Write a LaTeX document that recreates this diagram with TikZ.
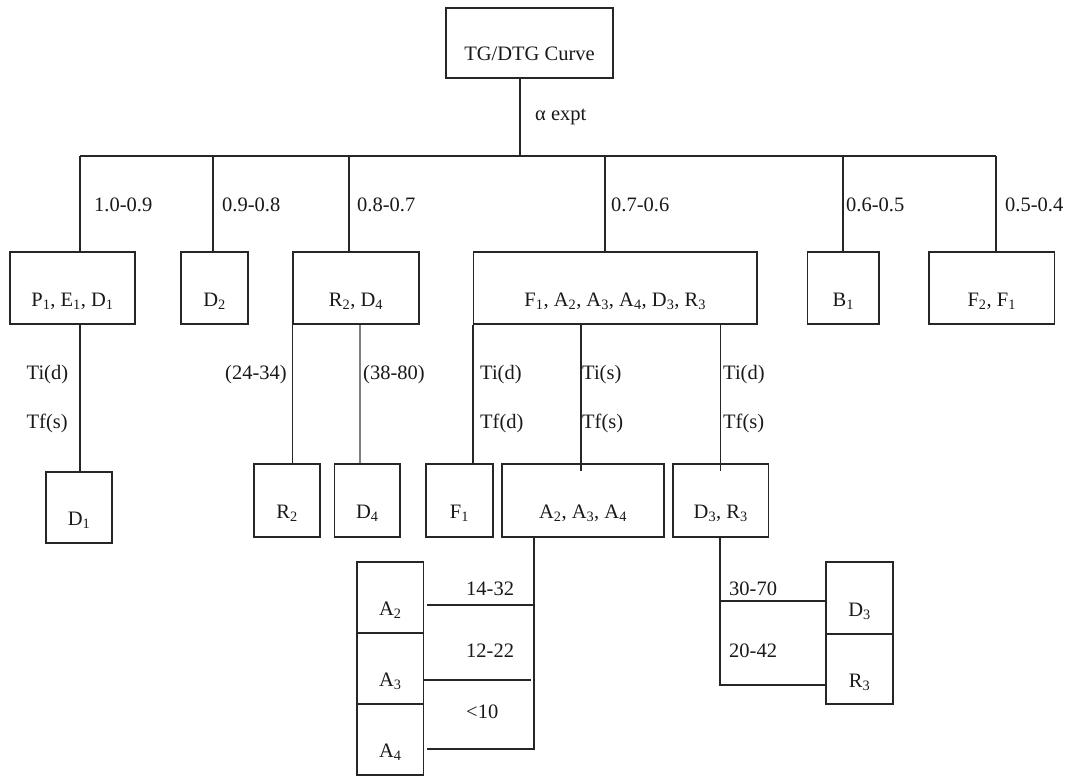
\documentclass[tikz,border=0pt]{standalone}
\usepackage{fontspec}
\setmainfont{Liberation Serif}
\newcommand{\sbs}[1]{\textsubscript{#1}}
\begin{document}
\begin{tikzpicture}[x=1pt,y=-1pt,
  every node/.style={font=\fontsize{20.5}{24}\selectfont, text=black!90},
  box/.style={draw=black!85, line width=1.5pt, inner sep=0pt, text height=36pt, text depth=0pt, anchor=center},
  lbl/.style={anchor=base west, inner sep=0pt},
  link/.style={draw=black!85, line width=1.5pt}]
\useasboundingbox (0,0) rectangle (1066,776);
% top
\node[box, minimum width=167pt, minimum height=70pt] (tg) at (529.5,43) {TG/DTG Curve};
% row 2
\node[box, minimum width=125pt, minimum height=72pt] (pe) at (72.5,288) {P\sbs{1}, E\sbs{1}, D\sbs{1}};
\node[box, minimum width=67pt, minimum height=72pt] (d2) at (214.5,288) {D\sbs{2}};
\node[box, minimum width=126pt, minimum height=72pt] (rd) at (356,288) {R\sbs{2}, D\sbs{4}};
\node[box, minimum width=283.5pt, minimum height=72pt] (fa) at (615.25,288) {F\sbs{1}, A\sbs{2}, A\sbs{3}, A\sbs{4}, D\sbs{3}, R\sbs{3}};
\node[box, minimum width=71.5pt, minimum height=72pt] (b1) at (843.25,288) {B\sbs{1}};
\node[box, minimum width=125.5pt, minimum height=72pt] (ff) at (991.75,288) {F\sbs{2}, F\sbs{1}};
% row 3
\node[box, minimum width=66pt, minimum height=71pt] (d1) at (79,507.5) {D\sbs{1}};
\node[box, minimum width=66pt, minimum height=73pt] (r2) at (287,500.5) {R\sbs{2}};
\node[box, minimum width=65.5pt, minimum height=73pt] (d4) at (367.25,500.5) {D\sbs{4}};
\node[box, minimum width=67pt, minimum height=73pt] (f1) at (459.5,500.5) {F\sbs{1}};
\node[box, minimum width=162pt, minimum height=73pt] (aaa) at (583,500.5) {A\sbs{2}, A\sbs{3}, A\sbs{4}};
\node[box, minimum width=95.5pt, minimum height=73pt] (dr) at (720.75,500.5) {D\sbs{3}, R\sbs{3}};
% bottom
\node[box, minimum width=66.6pt, minimum height=71pt] (a2) at (390.3,597.5) {A\sbs{2}};
\node[box, minimum width=66.6pt, minimum height=71pt] (a3) at (390.3,668.5) {A\sbs{3}};
\node[box, minimum width=66.6pt, minimum height=71pt] (a4) at (390.3,739.5) {A\sbs{4}};
\node[box, minimum width=67pt, minimum height=72pt] (d3) at (859.5,598) {D\sbs{3}};
\node[box, minimum width=67pt, minimum height=70pt] (r3) at (859.5,669) {R\sbs{3}};
% trunk
\coordinate (t0) at (520,156);
\coordinate (t1) at (80,156);
\coordinate (t2) at (213,156);
\coordinate (t3) at (349,156);
\coordinate (t4) at (605,156);
\coordinate (t5) at (843,156);
\coordinate (t6) at (996,156);
\draw[link] (tg.south -| t0) -- (t0);
\draw[link] (t1) -- (t6);
\draw[link] (t1) -- (t1 |- pe.north);
\draw[link] (t2) -- (t2 |- d2.north);
\draw[link] (t3) -- (t3 |- rd.north);
\draw[link] (t4) -- (t4 |- fa.north);
\draw[link] (t5) -- (t5 |- b1.north);
\draw[link] (t6) -- (t6 |- ff.north);
% second level
\coordinate (v1) at (80,0);
\draw[link] (pe.south -| v1) -- (d1.north -| v1);
\draw[link] (rd.south west) -- (rd.south west |- r2.north);
\coordinate (v2) at (360,0);
\draw[link, draw=black!50] (rd.south -| v2) -- (d4.north -| v2);
\draw[link] (fa.south west) -- (fa.south west |- f1.north);
\coordinate (v3) at (581,0);
\draw[link] (fa.south -| v3) -- ([yshift=-8pt]aaa.north -| v3);
\coordinate (v4) at (720.5,0);
\draw[link] (fa.south -| v4) -- ([yshift=-8pt]dr.north -| v4);
% A bracket
\coordinate (v5) at (534,0);
\coordinate (h1) at (0,605);
\coordinate (h2) at (0,680);
\coordinate (h3) at (0,749);
\draw[link] (aaa.south -| v5) -- (h3 -| v5) -- ([xshift=2.5pt]a4.east |- h3);
\draw[link] (h1 -| v5) -- ([xshift=2.5pt]a2.east |- h1);
\draw[link] ([xshift=-3pt]h2 -| v5) -- (a3.east |- h2);
% D/R bracket
\coordinate (v6) at (720,0);
\coordinate (h4) at (0,601);
\coordinate (h5) at (0,685);
\draw[link] (dr.south -| v6) -- (h5 -| v6) -- (r3.west |- h5);
\draw[link] (h4 -| v6) -- (d3.west |- h4);
% labels
\node[lbl] (la) at (535,121) {α expt};
\node[lbl] (l1) at (94,211) {1.0-0.9};
\node[lbl] (l2) at (222,211) {0.9-0.8};
\node[lbl] (l3) at (357,211) {0.8-0.7};
\node[lbl] (l4) at (611,211) {0.7-0.6};
\node[lbl] (l5) at (846,211) {0.6-0.5};
\node[lbl] (l6) at (1005,211) {0.5-0.4};
\node[lbl] (m1) at (26.5,379) {Ti(d)};
\node[lbl] (m2) at (26.5,428) {Tf(s)};
\node[lbl] (m3) at (225,379) {(24-34)};
\node[lbl] (m4) at (363,379) {(38-80)};
\node[lbl] (m5) at (480,379) {Ti(d)};
\node[lbl] (m6) at (480,428) {Tf(d)};
\node[lbl] (m7) at (582,379) {Ti(s)};
\node[lbl] (m8) at (582,428) {Tf(s)};
\node[lbl] (m9) at (723,379) {Ti(d)};
\node[lbl] (m10) at (723,428) {Tf(s)};
\node[lbl] (n1) at (466,595) {14-32};
\node[lbl] (n2) at (466,657) {12-22};
\node[lbl] (n3) at (466,718) {<10};
\node[lbl] (n4) at (729,595) {30-70};
\node[lbl] (n5) at (729,657) {20-42};
\end{tikzpicture}
\end{document}
